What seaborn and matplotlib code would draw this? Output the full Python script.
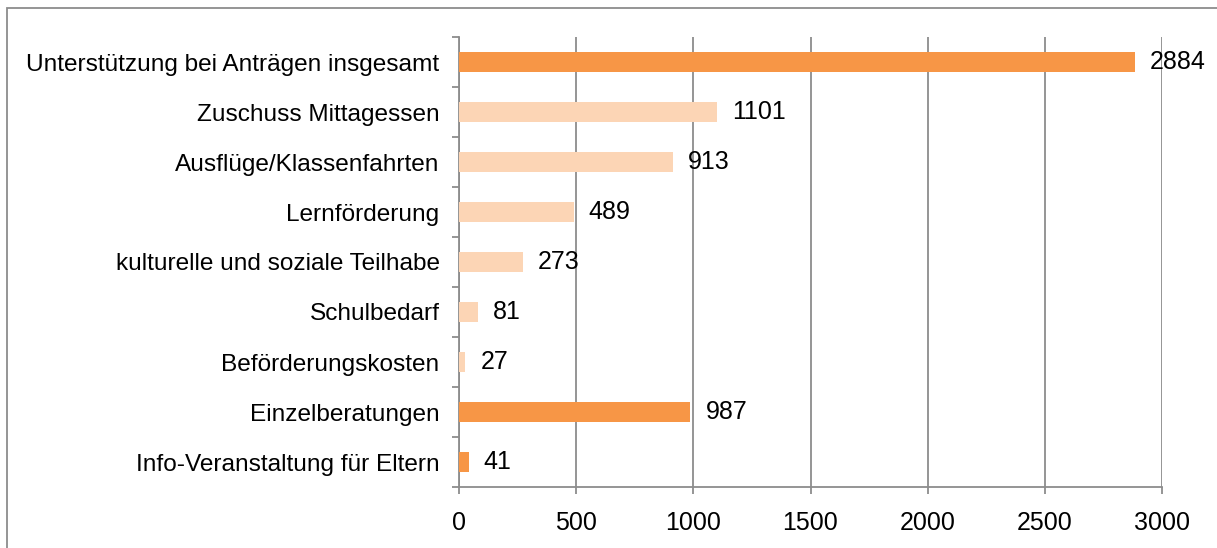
import matplotlib
matplotlib.use('Agg')
import matplotlib.pyplot as plt
import matplotlib.patches as mpatches
import seaborn as sns
import pandas as pd

# -----------------------------
# Data
# -----------------------------
categories = [
    'Unterstützung bei Anträgen insgesamt',
    'Zuschuss Mittagessen',
    'Ausflüge/Klassenfahrten',
    'Lernförderung',
    'kulturelle und soziale Teilhabe',
    'Schulbedarf',
    'Beförderungskosten',
    'Einzelberatungen',
    'Info-Veranstaltung für Eltern',
]
counts = [2884, 1101, 913, 489, 273, 81, 27, 987, 41]
is_total = [True, False, False, False, False, False, False, True, True]
x_ticks = [0, 500, 1000, 1500, 2000, 2500, 3000]

dark = '#F79646'
light = '#FCD5B5'
grid_col = '#8C8C8C'

df = pd.DataFrame({'Kategorie': categories, 'Anzahl': counts})
palette = {c: (dark if t else light) for c, t in zip(categories, is_total)}

sns.set_style('white')
plt.rcParams['font.family'] = ['Liberation Sans Narrow', 'Liberation Sans', 'DejaVu Sans']
plt.rcParams['text.color'] = 'black'
plt.rcParams['xtick.labelcolor'] = 'black'
plt.rcParams['ytick.labelcolor'] = 'black'

fig = plt.figure(figsize=(12.17, 5.48), dpi=100)
ax = fig.add_axes([459 / 1217, 1 - 487 / 548, (1162 - 459) / 1217, (487 - 37) / 548])

sns.barplot(
    data=df, x='Anzahl', y='Kategorie', hue='Kategorie',
    palette=palette, legend=False, width=0.4, orient='h',
    saturation=1, linewidth=0, ax=ax, zorder=3
)

ax.set_xlim(0, 3000)
ax.set_ylim(len(categories) - 0.5, -0.5)
ax.set_xticks(x_ticks)
ax.set_xticklabels([str(t) for t in x_ticks])
ax.set_xlabel('')
ax.set_ylabel('')

# gridlines + axes
ax.grid(axis='x', color=grid_col, linewidth=1.3, zorder=0)
ax.grid(axis='y', visible=False)
for side in ['top', 'right']:
    ax.spines[side].set_visible(False)
for side in ['left', 'bottom']:
    ax.spines[side].set_color(grid_col)
    ax.spines[side].set_linewidth(1.3)

ax.tick_params(axis='y', length=0, pad=14, labelsize=17.6)
ax.tick_params(axis='x', length=5, width=1.3, color=grid_col, pad=12, labelsize=18, bottom=True)
ax.set_yticks([i + 0.5 for i in range(-1, len(categories))], minor=True)
ax.tick_params(axis='y', which='minor', length=5, width=1.3, color=grid_col, left=True)

# value labels
for i, v in enumerate(counts):
    ax.text(v + 65, i, str(v), va='center', ha='left', fontsize=18, color='black', zorder=4)

# outer frame
fig.patches.append(mpatches.Rectangle(
    (7 / 1217, -0.05), 1.1, 1 - 8 / 548 + 0.05,
    transform=fig.transFigure, fill=False, edgecolor='#8C8C8C', linewidth=1.3
))

fig.savefig('out.png', dpi=100)
